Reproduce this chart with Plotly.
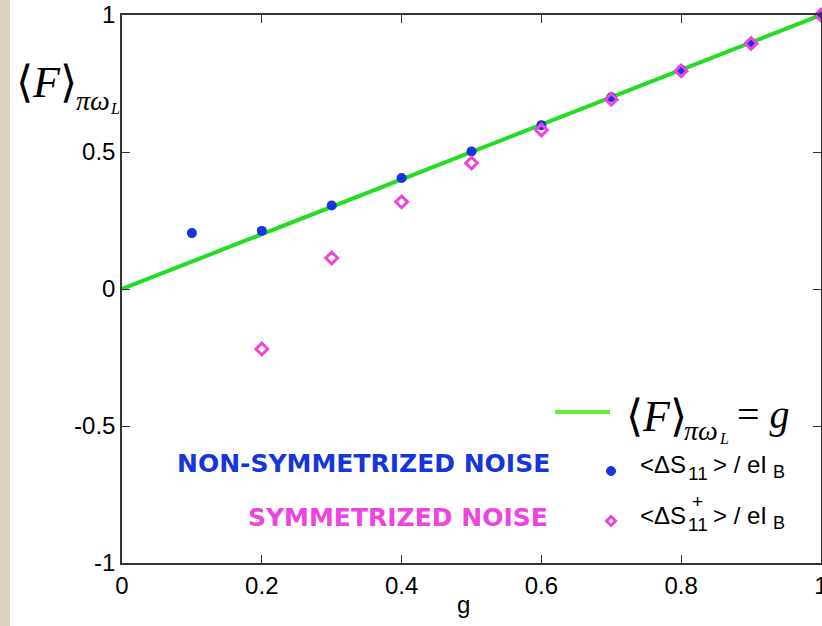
import plotly.graph_objects as go

# ---------------- data ----------------
g_non_sym = [0.1, 0.2, 0.3, 0.4, 0.5, 0.6, 0.7, 0.8, 0.9, 1.0]
f_non_sym = [0.204, 0.212, 0.305, 0.405, 0.502, 0.598, 0.700, 0.800, 0.898, 1.0]

g_sym = [0.2, 0.3, 0.4, 0.5, 0.6, 0.7, 0.8, 0.9, 1.0]
f_sym = [-0.219, 0.113, 0.318, 0.460, 0.580, 0.692, 0.796, 0.896, 1.0]

g_line = [0.0, 1.0]
f_line = [0.0, 1.0]

x_tickvals = [0, 0.2, 0.4, 0.6, 0.8, 1]
x_ticktext = ["0", "0.2", "0.4", "0.6", "0.8", "1"]
y_tickvals = [-1, -0.5, 0, 0.5, 1]
y_ticktext = ["-1", "-0.5", "0", "0.5", "1"]

BLUE = "#1535dd"
PINK = "#ee44dd"
GREEN = "#22dd22"

W, H = 822, 626
L, R, T, B = 122, 1, 15, 63
PW, PH = W - L - R, H - T - B


def px(xp):
    return (xp - L) / PW


def py(yp):
    return (H - B - yp) / PH


fig = go.Figure()
fig.add_trace(go.Scatter(x=g_line, y=f_line, mode="lines",
                         line=dict(color=GREEN, width=4), showlegend=False, cliponaxis=False))
fig.add_trace(go.Scatter(x=g_non_sym, y=f_non_sym, mode="markers",
                         marker=dict(color=BLUE, size=10, symbol="circle"),
                         showlegend=False, cliponaxis=False))
fig.add_trace(go.Scatter(x=g_sym, y=f_sym, mode="markers",
                         marker=dict(color=PINK, size=9, symbol="diamond-open",
                                     line=dict(color=PINK, width=3)),
                         showlegend=False, cliponaxis=False))

ann = []
serif = "Liberation Serif"
sans = "Liberation Sans"


def add(text, x, y, size, family=sans, color="black", xanchor="center", yanchor="middle"):
    ann.append(dict(text=text, x=px(x), y=py(y), xref="paper", yref="paper",
                    showarrow=False, xanchor=xanchor, yanchor=yanchor,
                    font=dict(size=size, family=family, color=color)))


# y-axis label  <F>_{pi omega_L}
add("⟨<i>F</i>⟩", 46, 82, 44, serif)
add("<i>πω</i>", 93, 100, 28, serif)
add("<i>L</i>", 115, 109, 16, serif)

# legend equation
add("⟨<i>F</i>⟩", 656, 416, 44, serif)
add("<i>πω</i>", 701, 430, 28, serif)
add("<i>L</i>", 724, 439, 16, serif)
add("= <i>g</i>", 735, 414, 40, serif, xanchor="left")

# legend series text  <ΔS_11> / eI_B   and  <ΔS^+_11> / eI_B
for yc, plus in ((464, False), (515, True)):
    add("&lt;ΔS", 638, yc, 24, xanchor="left")
    add("11", 686, yc + 9, 19, xanchor="left")
    add("&gt; / eI", 711, yc, 24, xanchor="left")
    add("B", 771, yc + 8, 18, xanchor="left")
    if plus:
        add("+", 697, yc - 14, 19)

# x-axis title
add("g", 463, 604, 24)

# noise labels
add("<b>NON-SYMMETRIZED NOISE</b>", 552, 463, 25, "DejaVu Sans", BLUE, xanchor="right")
add("<b>SYMMETRIZED NOISE</b>", 550, 517, 25, "DejaVu Sans", PINK, xanchor="right")

shapes = [
    # textured beige border strip on the left
    dict(type="rect", xref="paper", yref="paper", x0=px(0), x1=px(10), y0=py(H), y1=py(0),
         fillcolor="#dcd2bc", line=dict(width=0), layer="below"),
    # legend glyphs
    dict(type="line", xref="paper", yref="paper", x0=px(555), x1=px(610), y0=py(412), y1=py(412),
         line=dict(color="#66ee33", width=4)),
    dict(type="circle", xref="paper", yref="paper", x0=px(606.5), x1=px(615.5),
         y0=py(475.5), y1=py(466.5), fillcolor=BLUE, line=dict(color=BLUE, width=1)),
    dict(type="path", xref="paper", yref="paper",
         path=f"M {px(611)} {py(516.5)} L {px(615.5)} {py(521)} L {px(611)} {py(525.5)} L {px(606.5)} {py(521)} Z",
         line=dict(color=PINK, width=3)),
]

axis_common = dict(showline=True, linecolor="#333333", linewidth=1.5, mirror="ticks",
                   ticks="inside", ticklen=8, tickcolor="#333333", showgrid=False,
                   zeroline=False, automargin=False, ticklabeloverflow="allow",
                   tickfont=dict(family=sans, size=24, color="black"))

fig.update_layout(
    width=W, height=H,
    margin=dict(l=L, r=R, t=T, b=B),
    paper_bgcolor="white", plot_bgcolor="white",
    xaxis=dict(range=[0, 1], tickvals=x_tickvals, ticktext=x_ticktext, **axis_common),
    yaxis=dict(range=[-1, 1], tickvals=y_tickvals, ticktext=y_ticktext, **axis_common),
    annotations=ann,
    shapes=shapes,
)

fig.write_html("out.html", config={"displayModeBar": False},
               post_script="document.body.style.margin='0';document.body.style.overflow='hidden';")
